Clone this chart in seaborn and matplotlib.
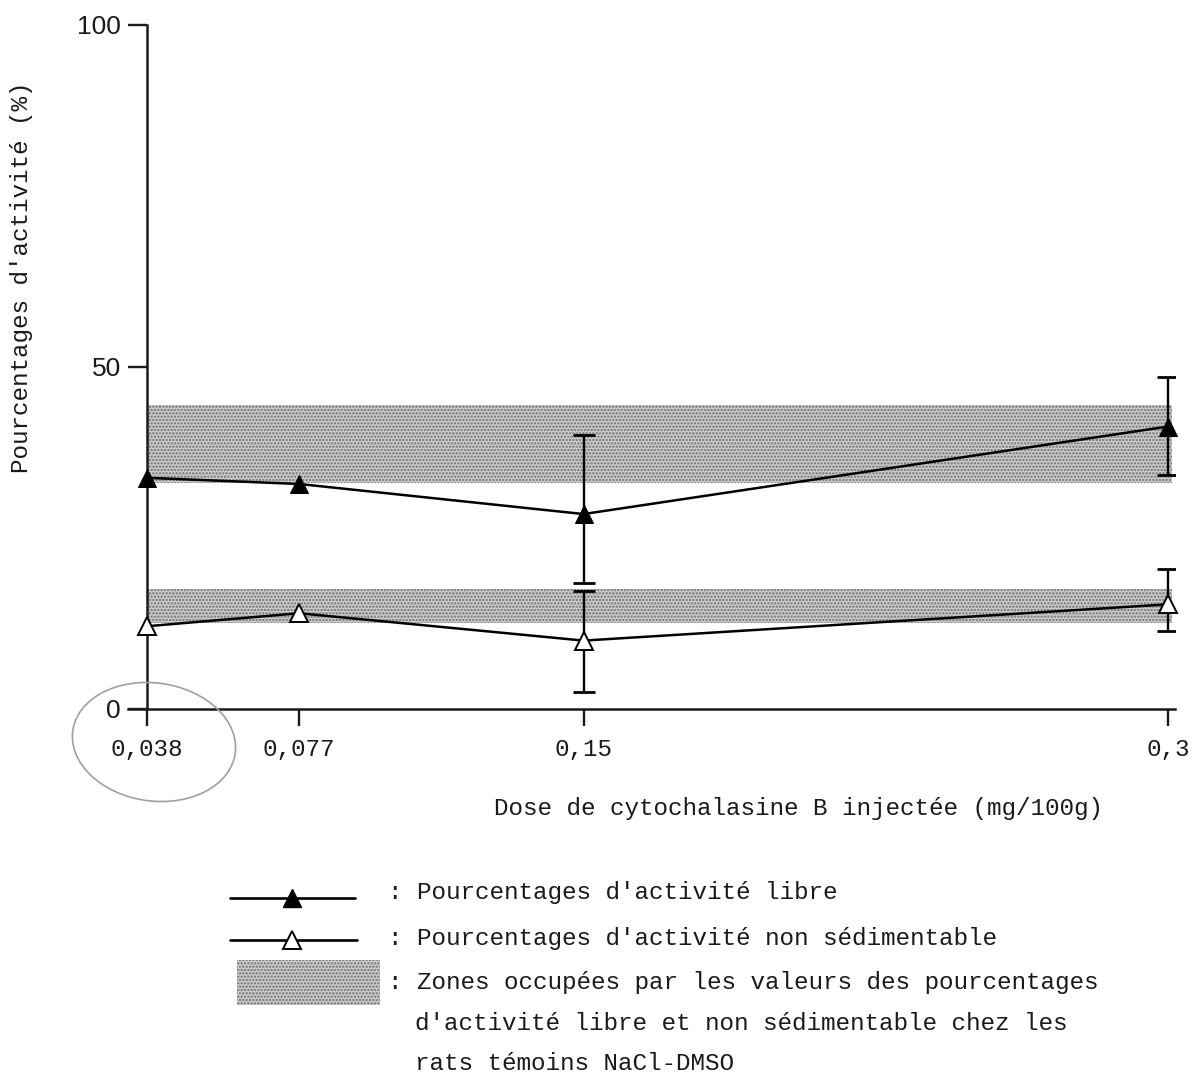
import numpy as np
import pandas as pd
import seaborn as sns
import matplotlib.pyplot as plt
from matplotlib.lines import Line2D
from matplotlib.patches import Rectangle, Ellipse

# data
dose = [0.038, 0.077, 0.15, 0.3]
libre = [33.8, 32.9, 28.5, 41.3]          # pourcentages d'activite libre
non_sed = [12.1, 14.0, 10.0, 15.3]        # pourcentages d'activite non sedimentable

# error bars only exist for the two highest doses
err_dose = [0.15, 0.3]
libre_err_val = [28.5, 41.3]
libre_low = [18.4, 34.2]
libre_high = [40.0, 48.6]
non_sed_err_val = [10.0, 15.3]
non_sed_low = [2.5, 11.4]
non_sed_high = [17.2, 20.4]

# zones of the NaCl-DMSO control rats
zone_libre = [33.1, 44.5]
zone_non_sed = [12.6, 17.6]
zone_x = [0.038, 0.301]

x_ticks = [0.038, 0.077, 0.15, 0.3]
x_labels = ['0,038', '0,077', '0,15', '0,3']
y_ticks = [0, 50, 100]

# style
sns.set_style('ticks')
plt.rcParams['font.family'] = ['Liberation Mono', 'DejaVu Sans Mono']
plt.rcParams['hatch.linewidth'] = 1.1
plt.rcParams['hatch.color'] = '#6e6e6e'
ink = '#1a1a1a'
fs = 17.5
zone_face = '#cbcbcb'

W, H = 1193, 1082
fig = plt.figure(figsize=(W / 100, H / 100), dpi=100)
ax = fig.add_axes([128 / W, 1 - 709 / H, (1175 - 128) / W, (709 - 25) / H])

# shaded control zones
for lo, hi in [zone_libre, zone_non_sed]:
    ax.fill_between(zone_x, lo, hi, facecolor=zone_face, edgecolor='#6e6e6e',
                    hatch='.....', lw=0, zorder=1)

# lines with markers
sns.lineplot(x=dose, y=libre, color='black', marker='^', markersize=13,
             markerfacecolor='black', markeredgecolor='black', lw=1.8,
             clip_on=False, zorder=4, ax=ax)
sns.lineplot(x=dose, y=non_sed, color='black', marker='^', markersize=13,
             markerfacecolor='white', markeredgecolor='black', markeredgewidth=1.4,
             lw=1.8, clip_on=False, zorder=4, ax=ax)

# error bars
for vals, low, high in [(libre_err_val, libre_low, libre_high),
                        (non_sed_err_val, non_sed_low, non_sed_high)]:
    vals = np.array(vals)
    yerr = [vals - np.array(low), np.array(high) - vals]
    ax.errorbar(err_dose, vals, yerr=yerr, fmt='none', ecolor='black',
                elinewidth=1.7, capsize=8, capthick=2.0, zorder=3)

# axes
ax.set_xlim(0.0331, 0.3018)
ax.set_ylim(0, 100)
ax.spines['top'].set_visible(False)
ax.spines['right'].set_visible(False)
ax.spines['left'].set_position(('data', 0.038))
for s in ['left', 'bottom']:
    ax.spines[s].set_linewidth(1.8)
    ax.spines[s].set_color(ink)
ax.set_xticks(x_ticks, x_labels)
ax.set_yticks(y_ticks)
ax.tick_params(axis='y', length=14, width=1.7, pad=5, labelsize=19, colors=ink)
ax.tick_params(axis='x', length=12, width=1.7, pad=9, labelsize=fs, colors=ink)
for lab in ax.get_yticklabels():
    lab.set_fontfamily('Liberation Sans')
ax.set_xlabel('')
ax.set_ylabel('')
ax.patch.set_alpha(0)

def fx(x):
    return x / W

def fy(y):
    return 1 - y / H

fig.text(fx(798), fy(808), 'Dose de cytochalasine B injectée (mg/100g)',
         ha='center', va='center', fontsize=fs, color=ink)
fig.text(fx(22), fy(277), "Pourcentages d'activité (%)", rotation=90,
         ha='center', va='center', fontsize=fs, color=ink)

# legend drawn by hand
fig.add_artist(Line2D([fx(230), fx(355)], [fy(898), fy(898)], color='black', lw=1.9))
fig.add_artist(Line2D([fx(292)], [fy(898)], marker='^', ms=13, mfc='black', mec='black'))
fig.add_artist(Line2D([fx(230), fx(357)], [fy(940), fy(940)], color='black', lw=1.9))
fig.add_artist(Line2D([fx(292)], [fy(940)], marker='^', ms=13, mfc='white', mec='black', mew=1.4))
fig.add_artist(Rectangle((fx(237), fy(1005)), fx(143), (1005 - 960) / H,
                         facecolor=zone_face, edgecolor='#6e6e6e', hatch='.....', lw=0,
                         transform=fig.transFigure))

fig.text(fx(388), fy(893), ": Pourcentages d'activité libre", va='center', fontsize=fs, color=ink)
fig.text(fx(388), fy(939), ": Pourcentages d'activité non sédimentable", va='center', fontsize=fs, color=ink)
fig.text(fx(388), fy(983), ": Zones occupées par les valeurs des pourcentages", va='center', fontsize=fs, color=ink)
fig.text(fx(415), fy(1023), "d'activité libre et non sédimentable chez les", va='center', fontsize=fs, color=ink)
fig.text(fx(415), fy(1064), "rats témoins NaCl-DMSO", va='center', fontsize=fs, color=ink)

# pencil circle around the first dose
fig.add_artist(Ellipse((154 / 100, (H - 742) / 100), 1.64, 1.18, angle=-8,
                       transform=fig.dpi_scale_trans, fill=False, ec='#a0a0a0', lw=1.2))

fig.savefig('out.png', dpi=100)
